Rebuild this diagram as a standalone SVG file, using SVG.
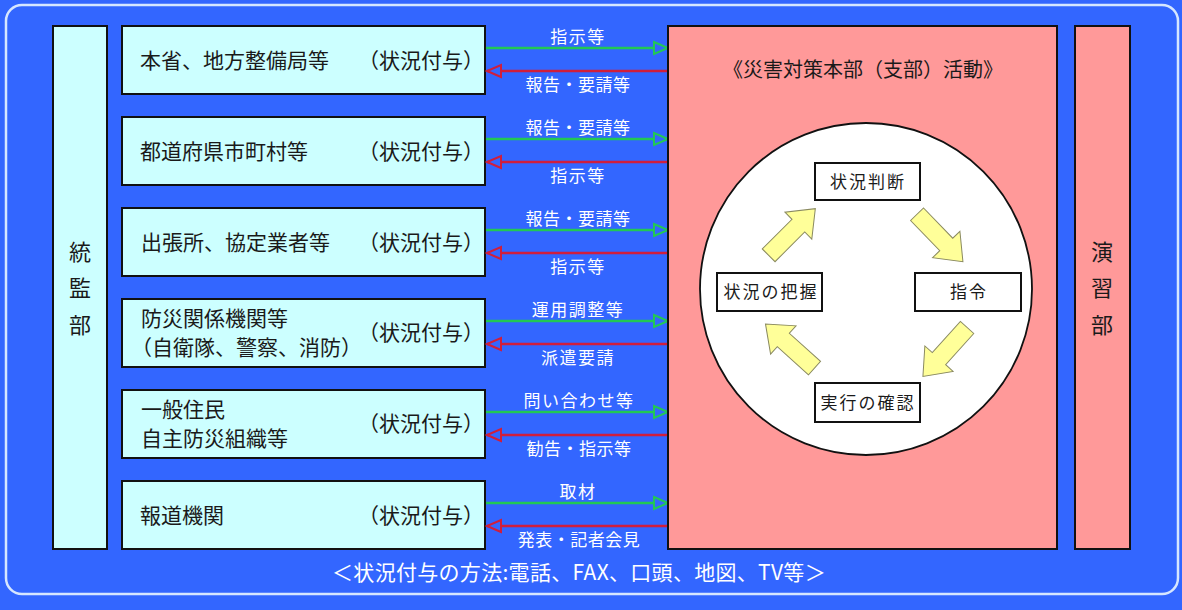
<svg xmlns="http://www.w3.org/2000/svg" width="1182" height="610" viewBox="0 0 1182 610">
<defs>
<style>
text{font-family:"Noto Sans CJK JP","Noto Sans",sans-serif}
.box{fill:#ccffff;stroke:#111;stroke-width:2}
.pink{fill:#ff9999;stroke:#111;stroke-width:2}
.lbl{font-size:21px;fill:#1a1a1a}
.side{font-size:22px;fill:#1a1a1a;text-anchor:middle}
.al{font-size:17px;fill:#ffffff;text-anchor:middle;letter-spacing:1.5px}
.al2{font-size:17px;fill:#ffffff;text-anchor:middle;letter-spacing:0.5px}
.g{stroke:#22c855;stroke-width:2.5;fill:none;marker-end:url(#mg)}
.r{stroke:#d01e3c;stroke-width:2.5;fill:none;marker-end:url(#mr)}
.cb{fill:#ffffff;stroke:#111;stroke-width:2}
.ct{font-size:17px;fill:#1a1a1a;text-anchor:middle;letter-spacing:2px}
.ya{fill:#ffff99;stroke:#8a8a60;stroke-width:1}
</style>
<marker id="mg" markerUnits="userSpaceOnUse" markerWidth="16" markerHeight="14" refX="14" refY="6" orient="auto" overflow="visible">
<path d="M0,0 L14,6 L0,12 Z" fill="#3366ff" stroke="#22c855" stroke-width="2"/>
</marker>
<marker id="mr" markerUnits="userSpaceOnUse" markerWidth="16" markerHeight="14" refX="14" refY="6" orient="auto" overflow="visible">
<path d="M0,0 L14,6 L0,12 Z" fill="#3366ff" stroke="#d01e3c" stroke-width="2"/>
</marker>
<path id="blk" d="M-33,-9 L9,-9 L9,-19 L33,0 L9,19 L9,9 L-33,9 Z"/>
</defs>
<rect x="0" y="0" width="1182" height="610" fill="#3366ff"/>
<rect x="6" y="5" width="1172" height="589" rx="16" fill="none" stroke="#d6e6ff" stroke-width="2.5"/>

<g id="toukanbu">
<rect class="box" x="53" y="26" width="54" height="523"/>
<text class="side" x="80" y="260">統</text>
<text class="side" x="80" y="296">監</text>
<text class="side" x="80" y="333">部</text>
</g>

<g id="row1">
<rect class="box" x="122" y="26" width="363" height="68"/>
<text class="lbl" x="140" y="68">本省、地方整備局等</text>
<text class="lbl" x="484" y="68" text-anchor="end">（状況付与）</text>
</g>
<g id="row2">
<rect class="box" x="122" y="117" width="363" height="68"/>
<text class="lbl" x="140" y="159">都道府県市町村等</text>
<text class="lbl" x="484" y="159" text-anchor="end">（状況付与）</text>
</g>
<g id="row3">
<rect class="box" x="122" y="208" width="363" height="68"/>
<text class="lbl" x="141" y="250">出張所、協定業者等</text>
<text class="lbl" x="484" y="250" text-anchor="end">（状況付与）</text>
</g>
<g id="row4">
<rect class="box" x="122" y="299" width="363" height="68"/>
<text class="lbl" x="141" y="326">防災関係機関等</text>
<text class="lbl" x="131" y="355">（自衛隊、警察、消防）</text>
<text class="lbl" x="484" y="340" text-anchor="end">（状況付与）</text>
</g>
<g id="row5">
<rect class="box" x="122" y="390" width="363" height="68"/>
<text class="lbl" x="141" y="417">一般住民</text>
<text class="lbl" x="141" y="446">自主防災組織等</text>
<text class="lbl" x="484" y="431" text-anchor="end">（状況付与）</text>
</g>
<g id="row6">
<rect class="box" x="122" y="481" width="363" height="68"/>
<text class="lbl" x="140" y="523">報道機関</text>
<text class="lbl" x="484" y="523" text-anchor="end">（状況付与）</text>
</g>

<g id="connectors">
<line class="g" x1="486" y1="48" x2="668" y2="48"/>
<line class="r" x1="668" y1="71" x2="487" y2="71"/>
<line class="g" x1="486" y1="139" x2="668" y2="139"/>
<line class="r" x1="668" y1="162" x2="487" y2="162"/>
<line class="g" x1="486" y1="230" x2="668" y2="230"/>
<line class="r" x1="668" y1="253" x2="487" y2="253"/>
<line class="g" x1="486" y1="321" x2="668" y2="321"/>
<line class="r" x1="668" y1="344" x2="487" y2="344"/>
<line class="g" x1="486" y1="412" x2="668" y2="412"/>
<line class="r" x1="668" y1="435" x2="487" y2="435"/>
<line class="g" x1="486" y1="503" x2="668" y2="503"/>
<line class="r" x1="668" y1="526" x2="487" y2="526"/>
<text class="al" x="578" y="43">指示等</text>
<text class="al2" x="578" y="91">報告・要請等</text>
<text class="al2" x="578" y="134">報告・要請等</text>
<text class="al" x="578" y="182">指示等</text>
<text class="al2" x="578" y="225">報告・要請等</text>
<text class="al" x="578" y="273">指示等</text>
<text class="al" x="578" y="316">運用調整等</text>
<text class="al" x="578" y="364">派遣要請</text>
<text class="al" x="579" y="407">問い合わせ等</text>
<text class="al2" x="579" y="455">勧告・指示等</text>
<text class="al" x="578" y="498">取材</text>
<text class="al2" x="579" y="546">発表・記者会見</text>
</g>

<g id="honbu">
<rect class="pink" x="668" y="26" width="389" height="523"/>
<text x="863" y="77" font-size="20" fill="#1a1a1a" text-anchor="middle">《災害対策本部（支部）活動》</text>
<circle cx="866" cy="289" r="166" fill="#ffffff" stroke="#111" stroke-width="1.8"/>
</g>

<g id="cycle-arrows">
<use href="#blk" class="ya" transform="translate(792,232) rotate(-45)"/>
<use href="#blk" class="ya" transform="translate(940,238) rotate(46)"/>
<use href="#blk" class="ya" transform="translate(945,352) rotate(132)"/>
<use href="#blk" class="ya" transform="translate(790,346) rotate(-138)"/>
</g>

<g id="jokyo-handan">
<rect class="cb" x="815" y="163" width="105" height="37"/>
<text class="ct" x="868" y="188">状況判断</text>
</g>
<g id="shirei">
<rect class="cb" x="915" y="273" width="106" height="38"/>
<text class="ct" x="969" y="298">指令</text>
</g>
<g id="jokyo-haaku">
<rect class="cb" x="717" y="273" width="105" height="38"/>
<text class="ct" x="771" y="298">状況の把握</text>
</g>
<g id="jikko-kakunin">
<rect class="cb" x="815" y="383" width="105" height="39"/>
<text class="ct" x="868" y="409">実行の確認</text>
</g>

<g id="enshubu">
<rect class="pink" x="1075" y="26" width="55" height="523"/>
<text class="side" x="1102" y="260">演</text>
<text class="side" x="1102" y="296">習</text>
<text class="side" x="1102" y="333">部</text>
</g>

<text x="579" y="580" font-size="21" fill="#ffffff" text-anchor="middle" letter-spacing="0.3">＜状況付与の方法:電話、FAX、口頭、地図、TV等＞</text>
</svg>
